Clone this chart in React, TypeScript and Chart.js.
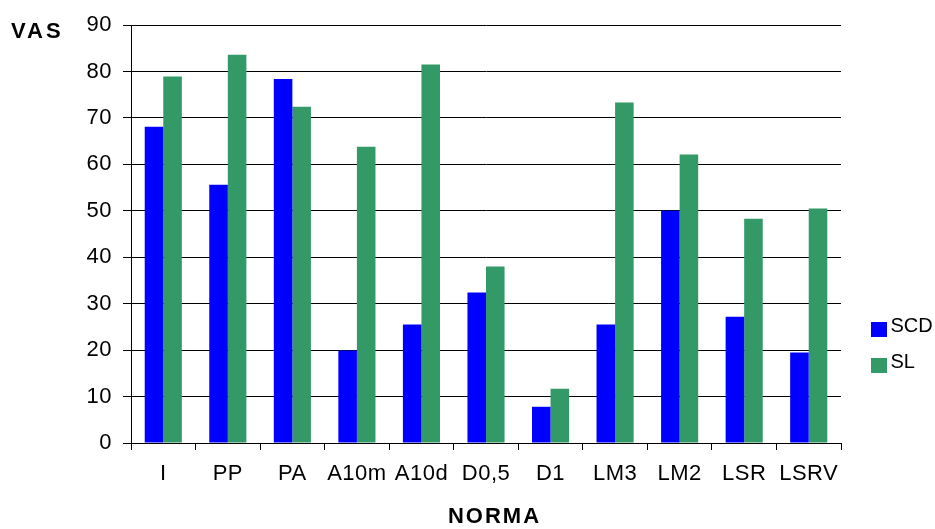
import React, { useEffect, useRef } from "react";
import { Chart, registerables } from "chart.js";

Chart.register(...registerables);

const categories = ["I", "PP", "PA", "A10m", "A10d", "D0,5", "D1", "LM3", "LM2", "LSR", "LSRV"];
const scdValues = [68.1, 55.6, 78.4, 19.9, 25.5, 32.4, 7.8, 25.5, 50.0, 27.2, 19.5];
const slValues = [78.9, 83.6, 72.4, 63.8, 81.5, 38.0, 11.7, 73.3, 62.1, 48.3, 50.5];
const seriesNames = ["SCD", "SL"];
const seriesColors = ["#0000FF", "#339966"];
const yTitle = "VAS";
const xTitle = "NORMA";

const FONT = "'Liberation Sans', Arial, sans-serif";

const extras = {
  id: "extras",
  beforeDraw(chart: any) {
    (chart.ctx as any).letterSpacing = "0.5px";
  },
  afterDraw(chart: any) {
    const ctx = chart.ctx as any;
    ctx.save();
    ctx.fillStyle = "#000";
    ctx.textBaseline = "alphabetic";
    ctx.textAlign = "left";
    ctx.font = `bold 22px ${FONT}`;
    ctx.letterSpacing = "3px";
    ctx.fillText(yTitle, 11, 37.7);
    ctx.letterSpacing = "2px";
    const cx = (chart.chartArea.left + chart.chartArea.right) / 2;
    const w = ctx.measureText(xTitle).width - 2;
    ctx.fillText(xTitle, cx + 7.5 - w / 2, 523);
    // legend
    ctx.letterSpacing = "0px";
    ctx.font = `20px ${FONT}`;
    const entries = chart.data.datasets;
    const boxTops = [322, 358];
    const baselines = [331.7, 368.3];
    entries.forEach((ds: any, i: number) => {
      ctx.fillStyle = ds.backgroundColor;
      ctx.fillRect(871, boxTops[i], 16, 15);
      ctx.fillStyle = "#000";
      ctx.fillText(ds.label, 890.5, baselines[i]);
    });
    ctx.restore();
  },
};

export default function App() {
  const ref = useRef<HTMLCanvasElement>(null);
  useEffect(() => {
    if (!ref.current) return;
    const chart = new Chart(ref.current, {
      type: "bar",
      data: {
        labels: categories,
        datasets: [
          { label: seriesNames[0], data: scdValues, backgroundColor: seriesColors[0], borderWidth: 0 },
          { label: seriesNames[1], data: slValues, backgroundColor: seriesColors[1], borderWidth: 0 },
        ],
      },
      options: {
        responsive: false,
        animation: false,
        devicePixelRatio: 1,
        layout: { padding: { left: 0, right: 94, top: 25, bottom: 0 } },
        datasets: { bar: { categoryPercentage: 0.575, barPercentage: 1 } },
        plugins: { legend: { display: false }, tooltip: { enabled: false } },
        scales: {
          x: {
            grid: { drawOnChartArea: false, drawTicks: true, tickLength: 7, color: "#000", offset: true },
            border: { color: "#000", width: 1 },
            ticks: { color: "#000", font: { family: FONT, size: 22 }, padding: 11, maxRotation: 0, autoSkip: false },
            afterFit: (s: any) => { s.height = 86; },
          },
          y: {
            min: 0,
            max: 90,
            ticks: { stepSize: 10, color: "#000", font: { family: FONT, size: 22 }, padding: 11 },
            grid: { color: "#000", lineWidth: 1, tickLength: 8, drawTicks: true },
            border: { color: "#000", width: 1 },
            afterFit: (s: any) => { s.width = 131; },
          },
        },
      },
      plugins: [extras],
    });
    return () => chart.destroy();
  }, []);
  return (
    <div style={{ position: "fixed", left: 0, top: 0, width: 935, height: 529, background: "#fff" }}>
      <canvas ref={ref} width={935} height={529} style={{ display: "block" }} />
    </div>
  );
}
